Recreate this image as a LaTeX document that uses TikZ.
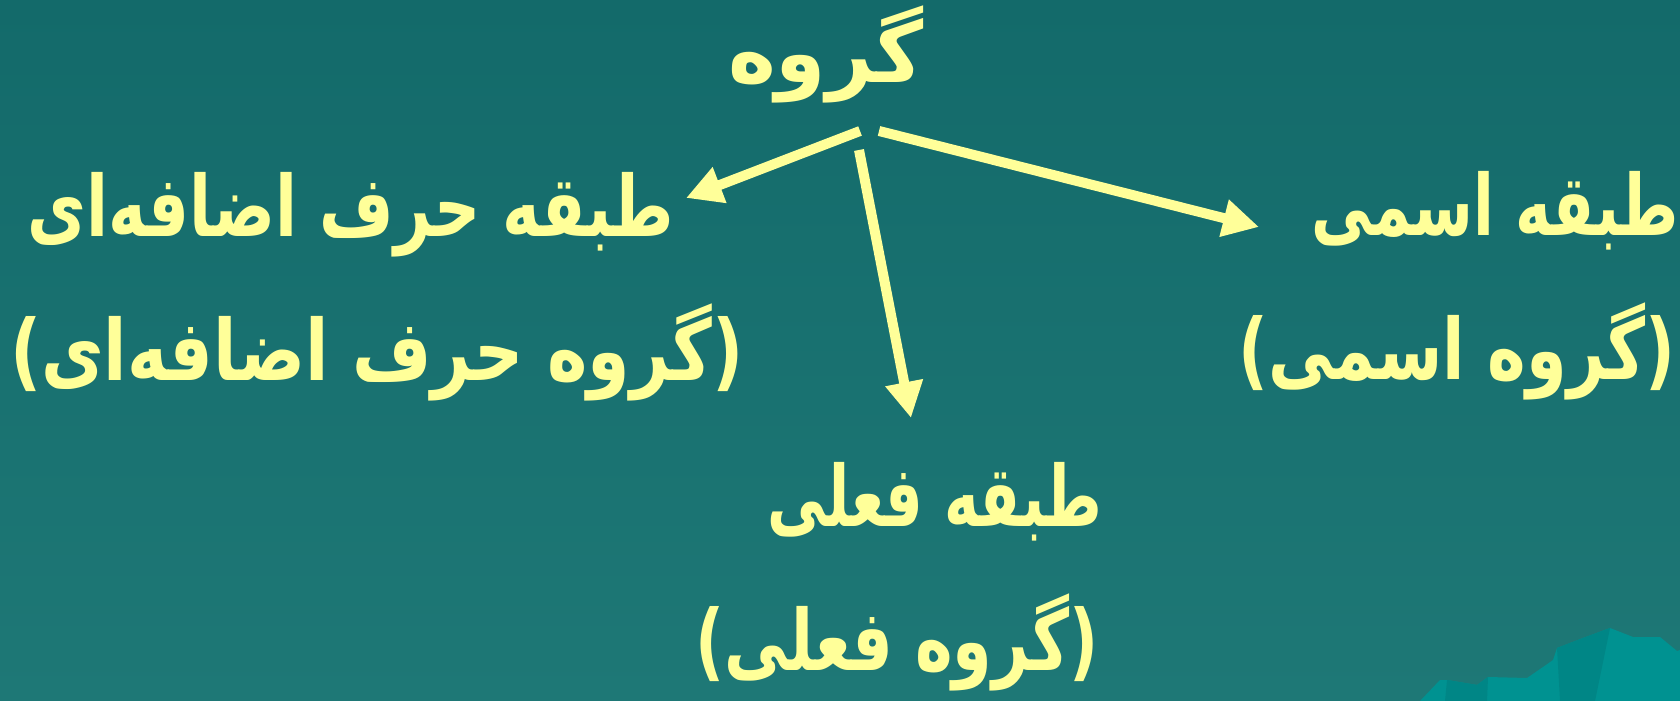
\documentclass[tikz,border=0pt]{standalone}
\usepackage{fontspec}
\newfontfamily\farsi[Script=Arabic]{DejaVu Sans}
\TeXXeTstate=1
\usetikzlibrary{arrows.meta}
\definecolor{TealTop}{RGB}{19,106,106}
\definecolor{TealBottom}{RGB}{30,120,118}
\definecolor{LabelYellow}{RGB}{255,255,153}
\definecolor{HillTeal}{RGB}{0,146,145}
\definecolor{HillDark}{RGB}{0,134,134}
\newcommand{\fa}[2][0.70]{\scalebox{#1}[1]{\beginR#2\endR}}

\begin{document}
\begin{tikzpicture}[
      x=0.01cm, y=-0.01cm,
      term/.style={text=LabelYellow, font=\farsi\bfseries\fontsize{24}{28}\selectfont, inner sep=0pt, anchor=base},
      arrow/.style={-{Triangle[length=0.36cm, width=0.36cm]}, draw=LabelYellow, line width=0.1cm}
  ]
      % Background
      \fill[top color=TealTop, bottom color=TealBottom] (0,0) rectangle (1680,701);
      \useasboundingbox (0,0) rectangle (1680,701);

      % Hills in the corner
      \fill[HillTeal] (1420,701) -- (1440,680) -- (1447,680) -- (1477,685) -- (1488,677)
            -- (1527,678) -- (1543,667) -- (1553,660) -- (1557,648) -- (1583,638)
            -- (1610,628) -- (1633,637) -- (1660,637) -- (1677,651) -- (1680,650) -- (1680,701) -- cycle;
      \fill[HillDark] (1447,680) -- (1477,685) -- (1488,677) -- (1487,701) -- (1445,701) -- cycle;
      \fill[HillDark] (1557,648) -- (1583,638) -- (1610,628) -- (1595,701) -- (1560,701) -- cycle;

      % Labels
      \node[term] (group) at (826,83) {\fa[0.96]{گروه}};
      \node[term] (prep) at (351,237) {\fa[0.76]{طبقه حرف اضافه‌ای}};
      \node[term] (prepG) at (377,381) {\fa[0.81]{(گروه حرف اضافه‌ای)}};
      \node[term] (noun) at (1495,236) {\fa[0.72]{طبقه اسمی}};
      \node[term] (nounG) at (1457,380) {\fa[0.775]{(گروه اسمی)}};
      \node[term] (verb) at (935,527) {\fa[0.70]{طبقه فعلی}};
      \node[term] (verbG) at (897,670) {\fa[0.755]{(گروه فعلی)}};

      % Arrow ends
      \coordinate (fromL) at (860,131);
      \coordinate (fromM) at (859,150);
      \coordinate (fromR) at (879,131);
      \coordinate (toL) at (686,198);
      \coordinate (toM) at (911,418);
      \coordinate (toR) at (1259,227);

      % Connectors
      \draw[arrow] (fromL) -- (toL);
      \draw[arrow] (fromM) -- (toM);
      \draw[arrow] (fromR) -- (toR);
  \end{tikzpicture}
\end{document}
